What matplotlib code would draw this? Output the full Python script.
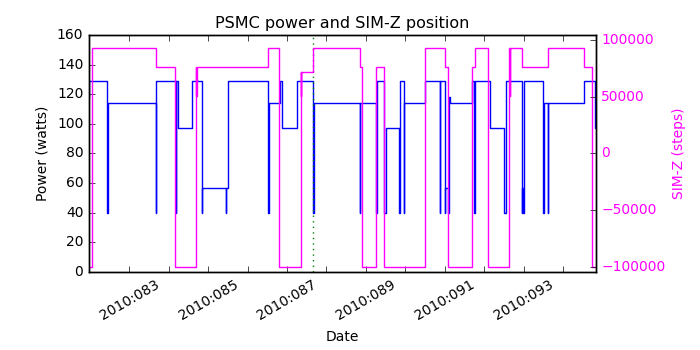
import matplotlib
matplotlib.use('Agg')
import matplotlib.pyplot as plt

plt.style.use('classic')
plt.rcParams['font.family'] = ['DejaVu Sans']

# PSMC power steps: (day of year 2010, watts), drawn as steps-post
power_days = [81.978, 81.99, 82.442, 82.45, 83.669, 83.677, 84.176, 84.184,
              84.227, 84.597, 84.835, 84.843, 85.451, 85.459, 85.494,
              86.523, 86.531, 86.820, 86.878, 87.243, 87.664, 87.672,
              88.848, 88.856, 89.250, 89.286, 89.469, 89.50, 89.844,
              89.862, 89.963, 89.971, 90.496, 90.876, 90.884, 91.003,
              91.010, 91.080, 91.110, 91.120, 91.679, 91.745, 91.753,
              92.150, 92.506, 92.541, 92.947, 92.955, 92.990, 93.013,
              93.494, 93.502, 93.606, 93.614, 94.534, 94.800, 94.823]
power_watts = [118, 129, 40, 114, 40, 129, 40, 129,
               97, 129, 40, 57, 40, 57, 129,
               40, 114, 129, 97, 129, 40, 114,
               40, 114, 40, 129, 40, 97, 40,
               129, 40, 114, 129, 40, 129, 40,
               57, 40, 118, 114, 129, 40, 129,
               97, 40, 129, 40, 57, 40, 129,
               40, 114, 40, 114, 129, 97, 97]

# SIM-Z translation table position (steps), with the odd mid-move sample
simz_days = [81.978, 82.047, 83.669, 84.158, 84.691, 84.700, 84.712,
             86.523, 86.802, 87.345, 87.354, 87.366, 87.664, 88.848,
             88.891, 89.253, 89.456, 90.496, 91.003, 91.086, 91.679,
             91.763, 92.093, 92.632, 92.641, 92.653, 92.962, 93.606,
             94.534, 94.729, 94.823]
simz_steps = [-99616, 92905, 75624, -99616, 75624, 50700, 75624,
              92905, -99616, 72000, 50700, 72000, 92905, 75624,
              -99616, 75624, -99616, 92905, 75624, -99616, 75624,
              92905, -99616, 92905, 50700, 92905, 75624, 92905,
              75624, -99616, -99616]

now_day = 87.664
day_ticks = list(range(83, 95))
day_labels = ['2010:%03d' % d if d % 2 == 1 else '' for d in day_ticks]

fig = plt.figure(figsize=(7, 3.5), dpi=100)
fig.subplots_adjust(left=0.127, right=0.851, top=0.9, bottom=0.223)
ax = fig.add_subplot(111)

ax.plot(power_days, power_watts, color='b', lw=1, drawstyle='steps-post')
ax.axvline(now_day, color='g', ls=':', lw=1)
ax.set_xlim(81.978, 94.823)
ax.set_ylim(0, 160)
ax.set_yticks(range(0, 161, 20))
ax.set_xticks(day_ticks)
ax.set_xticklabels(day_labels, rotation=30, ha='center')
ax.tick_params(labelsize=10)
ax.set_xlabel('Date', fontsize=10)
ax.set_ylabel('Power (watts)', fontsize=10)
ax.set_title('PSMC power and SIM-Z position', fontsize=11.5)

ax2 = ax.twinx()
ax2.plot(simz_days, simz_steps, color='#ff00ff', lw=1, drawstyle='steps-post')
ax2.set_xlim(81.978, 94.823)
ax2.set_ylim(-104150, 104150)
ax2.set_yticks([-100000, -50000, 0, 50000, 100000])
ax2.tick_params(labelsize=10, labelcolor='#ff00ff')
ax2.set_ylabel('SIM-Z (steps)', color='#ff00ff', fontsize=10)

fig.savefig('out.png', dpi=100)
